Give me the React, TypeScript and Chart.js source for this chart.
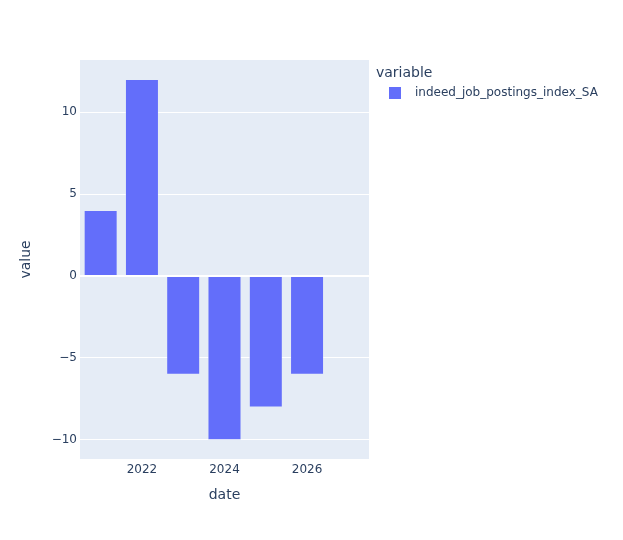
import React, { useEffect, useRef } from "react";
import { Chart, registerables } from "chart.js";

Chart.register(...registerables);

const years = [2021, 2022, 2023, 2024, 2025, 2026, 2027];
const values = [4, 12, -6, -10, -8, -6, 0];
const xTicks = [2022, 2024, 2026];
const yTicks = [-10, -5, 0, 5, 10];
const seriesName = "indeed_job_postings_index_SA";
const legendTitle = "variable";

const FONT = '"DejaVu Sans", verdana, arial, sans-serif';
const TEXT = "#2a3f5f";
const BAR = "#636efa";
const PLOT_BG = "#E5ECF6";

export default function App() {
  const ref = useRef<HTMLCanvasElement | null>(null);

  useEffect(() => {
    const canvas = ref.current;
    if (!canvas) return;

    const bgPlugin = {
      id: "plotBg",
      beforeDraw(chart: any) {
        const { ctx, chartArea } = chart;
        ctx.save();
        ctx.fillStyle = PLOT_BG;
        ctx.fillRect(chartArea.left, chartArea.top, chartArea.right - chartArea.left, chartArea.bottom - chartArea.top);
        ctx.restore();
      },
      afterDraw(chart: any) {
        const { ctx } = chart;
        ctx.save();
        ctx.fillStyle = TEXT;
        ctx.textBaseline = "middle";
        ctx.textAlign = "left";
        ctx.font = `14px ${FONT}`;
        ctx.fillText(legendTitle, 376, 73);
        ctx.fillStyle = BAR;
        ctx.fillRect(389, 87, 12, 12);
        ctx.fillStyle = TEXT;
        ctx.font = `12px ${FONT}`;
        ctx.fillText(seriesName, 415, 93);
        ctx.restore();
      },
    };

    const chart = new Chart(canvas, {
      type: "bar",
      data: {
        labels: years,
        datasets: [
          {
            label: seriesName,
            data: years.map((y, i) => ({ x: y, y: values[i] })),
            backgroundColor: BAR,
            borderColor: PLOT_BG,
            borderWidth: 0.5,
            barPercentage: 0.8,
            categoryPercentage: 1,
          },
        ],
      },
      options: {
        animation: false,
        responsive: false,
        devicePixelRatio: 1,
        layout: { padding: { top: 60, right: 254, left: 0, bottom: 0 } },
        plugins: {
          legend: { display: false },
          tooltip: { enabled: false },
        },
        scales: {
          x: {
            type: "linear",
            min: 2020.5,
            max: 2027.5,
            offset: false,
            grid: { display: false, drawTicks: false },
            border: { display: false },
            afterBuildTicks(scale: any) {
              scale.ticks = xTicks.map((v) => ({ value: v }));
            },
            afterFit(scale: any) {
              scale.height = 81;
            },
            ticks: {
              font: { family: FONT, size: 12 },
              color: TEXT,
              padding: 4,
              maxRotation: 0,
              callback: (v: any) => String(v),
            },
            title: {
              display: true,
              text: "date",
              font: { family: FONT, size: 14 },
              color: TEXT,
              padding: { top: 0, bottom: 36 },
            },
          },
          y: {
            type: "linear",
            min: -11.18,
            max: 13.19,
            grid: {
              color: (c: any) => "#ffffff",
              lineWidth: (c: any) => (c.tick && c.tick.value === 0 ? 2 : 1),
              drawTicks: false,
            },
            border: { display: false },
            afterBuildTicks(scale: any) {
              scale.ticks = yTicks.map((v) => ({ value: v }));
            },
            afterFit(scale: any) {
              scale.width = 80;
            },
            ticks: {
              font: { family: FONT, size: 12 },
              color: TEXT,
              padding: 3,
              callback: (v: any) => (v < 0 ? "\u2212" + Math.abs(v) : String(v)),
            },
            title: {
              display: true,
              text: "value",
              font: { family: FONT, size: 14 },
              color: TEXT,
              padding: { top: 18, bottom: 0 },
            },
          },
        },
      },
      plugins: [bgPlugin],
    } as any);

    return () => chart.destroy();
  }, []);

  return (
    <div style={{ position: "fixed", left: 0, top: 0, width: 623, height: 540, background: "#fff" }}>
      <canvas ref={ref} width={623} height={540} style={{ width: 623, height: 540, display: "block" }} />
    </div>
  );
}
